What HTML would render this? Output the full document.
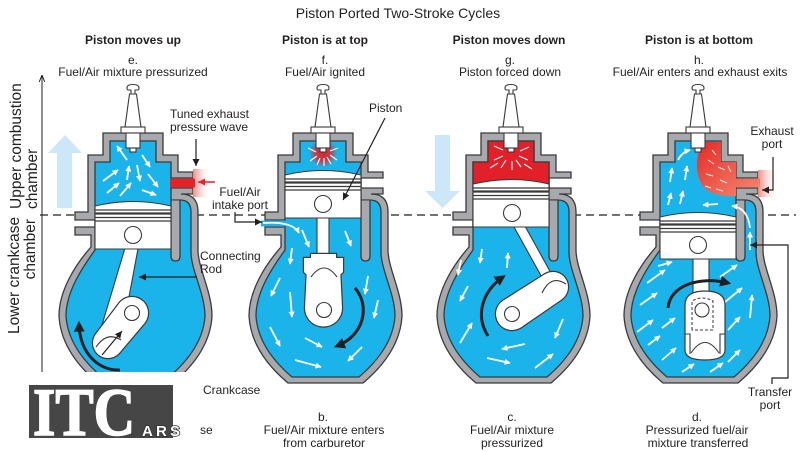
<!DOCTYPE html>
<html><head><meta charset="utf-8">
<style>
html,body{margin:0;padding:0;background:#fff;}
svg{display:block;}
text{font-family:"Liberation Sans",Arial,sans-serif;fill:#231f20;}
</style></head><body>
<svg width="800" height="452" viewBox="0 0 800 452" xmlns="http://www.w3.org/2000/svg">
<defs>
 <marker id="mb" viewBox="0 0 10 10" refX="10" refY="5" markerWidth="7" markerHeight="7" markerUnits="userSpaceOnUse" orient="auto"><path d="M0,0L10,5L0,10z" fill="#231f20"/></marker>
 <marker id="mr" viewBox="0 0 10 10" refX="10" refY="5" markerWidth="7" markerHeight="7" markerUnits="userSpaceOnUse" orient="auto"><path d="M0,0L10,5L0,10z" fill="#e52228"/></marker>
 <marker id="mw" viewBox="0 0 10 10" refX="9" refY="5" markerWidth="6" markerHeight="6" markerUnits="userSpaceOnUse" orient="auto"><path d="M0,0L10,5L0,10z" fill="#fff"/></marker>
 <marker id="mk" viewBox="0 0 10 10" refX="7" refY="5" markerWidth="11" markerHeight="11" markerUnits="userSpaceOnUse" orient="auto"><path d="M0,0L10,5L0,10z" fill="#231f20"/></marker>
 <marker id="mo" viewBox="0 0 10 10" refX="10" refY="5" markerWidth="7" markerHeight="7" markerUnits="userSpaceOnUse" orient="auto"><path d="M0,1L10,5L0,9" fill="none" stroke="#231f20" stroke-width="1.4"/></marker>
 <path id="outer" d="M-30,133 H30 V155 H45 V172 H60 V178 H38 V188 H60 V194 H48 Q65,194 65,212 V250 C65,268 79,292 79,316 Q77,352 40,383 H-35 Q-72,352 -74,316 C-74,290 -57,264 -42,247 V235 H-58 V227 H-38 V220 H-58 V212 H-45 V155 H-30 Z"/>
 <path id="inner" d="M-23,141 H23 V162 H38 V200 H47 Q58,200 58,212 V252 C58,270 72,294 72,316 Q70,348 36,377 H-31 Q-65,348 -67,316 C-67,292 -51,268 -38,250 V162 H-23 Z"/>
 <path id="bar" d="M38,200.5 V256 Q38,261 42.5,261 Q47,261 47,256 V200.5"/>
 <g id="plug" fill="#fff" stroke="#3a3a3a" stroke-width="1.1">
  <path d="M-3.5,94 L3.5,94 L8,127 L-8,127 Z"/>
  <rect x="-12" y="127" width="24" height="6"/>
  <rect x="-7" y="133" width="14" height="15"/>
  <rect x="-3" y="148" width="6" height="4"/>
  <path d="M-2,94 V90 H-4.5 Q-6,90 -6,88 Q-6,84.5 0,84.5 Q6,84.5 6,88 Q6,90 4.5,90 H2 V94 Z"/>
 </g>
 <radialGradient id="glow"><stop offset="0" stop-color="#e52228"/><stop offset="0.55" stop-color="#e52228" stop-opacity="0.8"/><stop offset="1" stop-color="#e52228" stop-opacity="0"/></radialGradient>
 <linearGradient id="fade" x1="0" y1="0" x2="1" y2="0"><stop offset="0" stop-color="#f08a84"/><stop offset="1" stop-color="#fde4e2" stop-opacity="0"/></linearGradient>
 <linearGradient id="blob" x1="0" y1="0" x2="1" y2="1"><stop offset="0" stop-color="#e52a26"/><stop offset="1" stop-color="#f58a72"/></linearGradient>
</defs>

<!-- dashed divider -->
<line x1="40" y1="215" x2="796" y2="215" stroke="#231f20" stroke-width="1.3" stroke-dasharray="8,5"/>
<!-- axis -->
<line x1="42" y1="372" x2="42" y2="75" stroke="#231f20" stroke-width="1" marker-end="url(#mo)"/>

<!-- big light blue arrows -->
<polygon points="65,135 82,153 72,153 72,208 57,208 57,153 48,153" fill="#cce7f8"/>
<polygon points="435,135 450,135 450,191 460,191 442.5,208 425,191 435,191" fill="#cce7f8"/>

<!-- ============ ENGINE 1 ============ -->
<g transform="translate(133,0)">
 <use href="#outer" fill="#a7a9ac" stroke="#3a3a3a" stroke-width="1.3"/>
 <use href="#inner" fill="#1bb4ea" stroke="#3a3a3a" stroke-width="1.3"/>
 <rect x="60" y="169" width="16" height="28" fill="url(#fade)"/>
 <rect x="37" y="178.6" width="25" height="8.8" fill="#e52228"/>
 <use href="#bar" fill="#a7a9ac" stroke="#3a3a3a" stroke-width="1.3"/>
 <g stroke="#fff" stroke-width="1.8" marker-end="url(#mw)">
  <line x1="-6" y1="160" x2="-16" y2="146"/>
  <line x1="9" y1="155" x2="17" y2="167"/>
  <line x1="-30" y1="181" x2="-15" y2="170"/>
  <line x1="-26" y1="193" x2="-14" y2="183"/>
  <line x1="-13" y1="196" x2="-2" y2="183"/>
  <line x1="-6" y1="180" x2="-4" y2="166"/>
  <line x1="4" y1="165" x2="7" y2="181"/>
  <line x1="15" y1="174" x2="25" y2="187"/>
  <line x1="9" y1="190" x2="23" y2="195"/>
 </g>
 <path d="M-5,238 L7,238 L-13,345 L-37,345 Z" fill="#fff" stroke="#3a3a3a" stroke-width="1.1"/>
 <g fill="#3a3a3a" stroke="#3a3a3a" stroke-width="2.4">
  <circle cx="-1" cy="313" r="16"/><circle cx="-25" cy="343" r="15"/>
  <polygon points="11.5,323 -13.5,303 -36.7,333.6 -13.3,352.4"/>
 </g>
 <g fill="#fff">
  <circle cx="-1" cy="313" r="16"/><circle cx="-25" cy="343" r="15"/>
  <polygon points="11.5,323 -13.5,303 -36.7,333.6 -13.3,352.4"/>
 </g>
 <circle cx="-1" cy="313" r="7.5" fill="#fff" stroke="#3a3a3a" stroke-width="1.1"/>
 <path d="M-37,347 Q-26,331 -12,340" fill="none" stroke="#3a3a3a" stroke-width="1.1"/>
 <line x1="-31" y1="355" x2="-11" y2="331" stroke="#231f20" stroke-width="1.2" marker-end="url(#mb)"/>
 <path d="M-13,370 C-33,371 -53,355 -54,324" fill="none" stroke="#231f20" stroke-width="3" marker-end="url(#mk)"/>
 <g fill="#fff" stroke="#3a3a3a" stroke-width="1.1">
  <path d="M-38,249 V206 Q0,197 38,206 V249 Z"/>
  <circle cx="0" cy="235" r="8.5"/>
 </g>
 <g stroke="#3a3a3a"><line x1="-38" y1="210" x2="38" y2="210" stroke-width="1.2"/><line x1="-38" y1="213.5" x2="38" y2="213.5" stroke-width="2.2"/><line x1="-38" y1="217.5" x2="38" y2="217.5" stroke-width="1.2"/><line x1="-38" y1="221" x2="38" y2="221" stroke-width="1.2"/></g>
 <use href="#plug"/>
</g>

<!-- ============ ENGINE 2 ============ -->
<g transform="translate(323,0)">
 <use href="#outer" fill="#a7a9ac" stroke="#3a3a3a" stroke-width="1.3"/>
 <use href="#inner" fill="#1bb4ea" stroke="#3a3a3a" stroke-width="1.3"/>
 <rect x="-62" y="220.6" width="25" height="5.8" fill="#1bb4ea"/>
 <use href="#bar" fill="#a7a9ac" stroke="#3a3a3a" stroke-width="1.3"/>
 <path d="M-60,223 Q-30,221 -24,233" fill="none" stroke="#fff" stroke-width="1.8" marker-end="url(#mw)"/>
 <g stroke="#fff" stroke-width="1.8" marker-end="url(#mw)">
  <line x1="-21" y1="230" x2="-14" y2="247"/>
  <line x1="22" y1="231" x2="28" y2="246"/>
  <line x1="-31" y1="248" x2="-33" y2="264"/>
  <line x1="-43" y1="278" x2="-52" y2="296"/>
  <line x1="-33" y1="292" x2="-31" y2="317"/>
  <line x1="45" y1="276" x2="42" y2="294"/>
  <line x1="55" y1="300" x2="51" y2="318"/>
  <line x1="-53" y1="327" x2="-43" y2="346"/>
  <line x1="-18" y1="338" x2="-1" y2="347"/>
  <line x1="-28" y1="360" x2="-2" y2="367"/>
  <line x1="39" y1="347" x2="25" y2="361"/>
 </g>
 <rect x="-6" y="210" width="12" height="52" fill="#fff" stroke="#3a3a3a" stroke-width="1.1"/>
 <g fill="#3a3a3a" stroke="#3a3a3a" stroke-width="2.4">
  <path d="M-16,268 L-18,308 A18,18 0 0 0 19,308 L17,268 Z"/>
  <polygon points="-19,258 -12,258 -12,254 13,254 13,258 20,258 20,272 14,278 -13,278 -19,272"/>
 </g>
 <g fill="#fff">
  <path d="M-16,268 L-18,308 A18,18 0 0 0 19,308 L17,268 Z"/>
  <polygon points="-19,258 -12,258 -12,254 13,254 13,258 20,258 20,272 14,278 -13,278 -19,272"/>
 </g>
 <circle cx="1" cy="310" r="7.5" fill="#fff" stroke="#3a3a3a" stroke-width="1.1"/>
 <path d="M-12,277 Q1,259 14,277" fill="none" stroke="#3a3a3a" stroke-width="1.1"/>
 <path d="M32,288 C47,305 42,335 14,346" fill="none" stroke="#231f20" stroke-width="3" marker-end="url(#mk)"/>
 <g fill="#fff" stroke="#3a3a3a" stroke-width="1.1">
  <path d="M-38,218 V175 Q0,166 38,175 V218 Z"/>
  <circle cx="0" cy="204" r="8.5"/>
 </g>
 <g stroke="#3a3a3a"><line x1="-38" y1="179" x2="38" y2="179" stroke-width="1.2"/><line x1="-38" y1="182.5" x2="38" y2="182.5" stroke-width="2.2"/><line x1="-38" y1="186.5" x2="38" y2="186.5" stroke-width="1.2"/><line x1="-38" y1="190" x2="38" y2="190" stroke-width="1.2"/></g>
 <circle cx="0" cy="153" r="14" fill="url(#glow)"/>
 <use href="#plug"/>
 <g stroke="#fff" stroke-width="1.1">
  <line x1="-7" y1="152" x2="-15" y2="148"/><line x1="-6" y1="156" x2="-13" y2="161"/>
  <line x1="-3" y1="158" x2="-6" y2="165"/><line x1="1" y1="158" x2="1" y2="166"/>
  <line x1="4" y1="157" x2="8" y2="164"/><line x1="7" y1="155" x2="14" y2="160"/>
  <line x1="7" y1="151" x2="15" y2="148"/>
 </g>
</g>

<!-- ============ ENGINE 3 ============ -->
<g transform="translate(511,0)">
 <use href="#outer" fill="#a7a9ac" stroke="#3a3a3a" stroke-width="1.3"/>
 <use href="#inner" fill="#1bb4ea" stroke="#3a3a3a" stroke-width="1.3"/>
 <path d="M-23,141 H23 V162 H38 V190 H-38 V162 H-23 Z" fill="#e3202a" stroke="#3a3a3a" stroke-width="1.3"/>
 <use href="#bar" fill="#a7a9ac" stroke="#3a3a3a" stroke-width="1.3"/>
 <g stroke="#fff" stroke-width="1.8" marker-end="url(#mw)">
  <line x1="-29" y1="249" x2="-31" y2="263"/>
  <line x1="-4" y1="268" x2="-3" y2="253"/>
  <line x1="-43" y1="286" x2="-51" y2="301"/>
  <line x1="-51" y1="343" x2="-39" y2="323"/>
  <line x1="-24" y1="358" x2="-1" y2="363"/>
  <line x1="14" y1="344" x2="-9" y2="349"/>
  <line x1="52" y1="319" x2="44" y2="338"/>
  <line x1="24" y1="368" x2="42" y2="354"/>
  <line x1="-50" y1="260" x2="-53" y2="275"/>
 </g>
 <polygon points="5.4,210.6 -3.4,215.4 37.6,289.4 46.4,284.6" fill="#fff" stroke="#3a3a3a" stroke-width="1.1"/>
 <g fill="#3a3a3a" stroke="#3a3a3a" stroke-width="2.4">
  <circle cx="1" cy="314" r="16"/><circle cx="42" cy="287" r="15"/>
  <polygon points="-7.8,300.6 33.7,274.4 50.3,299.6 9.8,327.4"/>
 </g>
 <g fill="#fff">
  <circle cx="1" cy="314" r="16"/><circle cx="42" cy="287" r="15"/>
  <polygon points="-7.8,300.6 33.7,274.4 50.3,299.6 9.8,327.4"/>
 </g>
 <circle cx="1" cy="314" r="7.5" fill="#fff" stroke="#3a3a3a" stroke-width="1.1"/>
 <path d="M31,293 Q40,274 55,284" fill="none" stroke="#3a3a3a" stroke-width="1.1"/>
 <path d="M-23,336 C-37,314 -27,290 -8,277" fill="none" stroke="#231f20" stroke-width="3" marker-end="url(#mk)"/>
 <g fill="#fff" stroke="#3a3a3a" stroke-width="1.1">
  <path d="M-38,227 V184 Q0,175 38,184 V227 Z"/>
  <circle cx="1" cy="213" r="8.5"/>
 </g>
 <g stroke="#3a3a3a"><line x1="-38" y1="188" x2="38" y2="188" stroke-width="1.2"/><line x1="-38" y1="191.5" x2="38" y2="191.5" stroke-width="2.2"/><line x1="-38" y1="195.5" x2="38" y2="195.5" stroke-width="1.2"/><line x1="-38" y1="199" x2="38" y2="199" stroke-width="1.2"/></g>
 <use href="#plug"/>
 <g stroke="#fff" stroke-width="1.1">
  <line x1="-8" y1="150" x2="-17" y2="146"/><line x1="-8" y1="156" x2="-17" y2="160"/>
  <line x1="-5" y1="160" x2="-10" y2="168"/><line x1="1" y1="161" x2="1" y2="170"/>
  <line x1="5" y1="160" x2="10" y2="167"/><line x1="8" y1="156" x2="17" y2="160"/>
  <line x1="9" y1="151" x2="18" y2="147"/><line x1="-13" y1="163" x2="-21" y2="168"/>
  <line x1="13" y1="164" x2="21" y2="169"/>
 </g>
</g>

<!-- ============ ENGINE 4 ============ -->
<g transform="translate(698,0)">
 <use href="#outer" fill="#a7a9ac" stroke="#3a3a3a" stroke-width="1.3"/>
 <use href="#inner" fill="#1bb4ea" stroke="#3a3a3a" stroke-width="1.3"/>
 <rect x="60" y="170" width="18" height="27" fill="url(#fade)"/>
 <path d="M6,142 H23 V162 H38 V178.6 H62 V187.4 H38 V196 Q-1,198 -1,166 Q-1,150 6,142 Z" fill="url(#blob)"/>
 <g stroke="#fff" stroke-width="1" opacity="0.9">
  <line x1="10" y1="160" x2="16" y2="164"/><line x1="20" y1="167" x2="27" y2="170"/>
  <line x1="8" y1="174" x2="15" y2="176"/><line x1="22" y1="180" x2="29" y2="183"/>
  <line x1="7" y1="186" x2="13" y2="188"/><line x1="30" y1="166" x2="33" y2="172"/>
  <line x1="18" y1="189" x2="25" y2="191"/><line x1="14" y1="150" x2="18" y2="155"/>
 </g>
 <use href="#bar" fill="#a7a9ac" stroke="#3a3a3a" stroke-width="1.3"/>
 <g stroke="#fff" stroke-width="1.8" marker-end="url(#mw)">
  <line x1="-51" y1="283" x2="-33" y2="270"/>
  <line x1="-58" y1="305" x2="-41" y2="293"/>
  <line x1="-61" y1="332" x2="-45" y2="320"/>
  <line x1="-36" y1="328" x2="-23" y2="318"/>
  <line x1="-36" y1="360" x2="-22" y2="348"/>
  <line x1="-50" y1="345" x2="-38" y2="336"/>
  <line x1="22" y1="277" x2="39" y2="265"/>
  <line x1="27" y1="302" x2="44" y2="288"/>
  <line x1="52" y1="318" x2="54" y2="295"/>
  <line x1="30" y1="330" x2="42" y2="317"/>
  <line x1="30" y1="362" x2="42" y2="350"/>
  <line x1="12" y1="372" x2="25" y2="363"/>
  <line x1="-16" y1="372" x2="-4" y2="364"/>
  <line x1="-40" y1="266" x2="-26" y2="262"/>
  <line x1="52" y1="250" x2="52" y2="232"/>
  <line x1="-28" y1="182" x2="-26" y2="168"/>
  <line x1="-13" y1="180" x2="-11" y2="166"/>
  <line x1="-30" y1="205" x2="-27" y2="193"/>
  <line x1="-18" y1="204" x2="-15" y2="191"/>
  <line x1="20" y1="204" x2="5" y2="205"/>
 </g>
 <g fill="none" stroke="#fff" stroke-width="1.8" marker-end="url(#mw)">
  <path d="M-20,160 Q-16,152 -8,150"/>
  <path d="M52,228 Q50,208 34,206"/>
 </g>
 <rect x="-5" y="255" width="16" height="41" fill="#fff" stroke="#3a3a3a" stroke-width="1.1"/>
 <path d="M-13,305 Q-13,291 7,291 Q27,291 27,305 V350 Q27,360 7,360 Q-13,360 -13,350 Z" fill="#fff" stroke="#3a3a3a" stroke-width="1.2"/>
 <path d="M-6,330 V301 Q4,295 15,301 V330 Z" fill="none" stroke="#3a3a3a" stroke-width="1" stroke-dasharray="3,2"/>
 <circle cx="4" cy="310" r="7" fill="#fff" stroke="#3a3a3a" stroke-width="1.1"/>
 <path d="M-13,334 H-8 V354 M27,334 H22 V354" fill="none" stroke="#3a3a3a" stroke-width="1.1"/>
 <path d="M-7,353 Q7,332 21,353" fill="none" stroke="#3a3a3a" stroke-width="1.1"/>
 <path d="M-30,308 C-28,285 2,276 30,283" fill="none" stroke="#231f20" stroke-width="3" marker-end="url(#mk)"/>
 <g fill="#fff" stroke="#3a3a3a" stroke-width="1.1">
  <path d="M-38,259 V217 Q0,208 38,217 V259 Z"/>
  <circle cx="0" cy="245" r="8.5"/>
 </g>
 <g stroke="#3a3a3a"><line x1="-38" y1="221" x2="38" y2="221" stroke-width="1.2"/><line x1="-38" y1="224.5" x2="38" y2="224.5" stroke-width="2.2"/><line x1="-38" y1="228.5" x2="38" y2="228.5" stroke-width="1.2"/><line x1="-38" y1="232" x2="38" y2="232" stroke-width="1.2"/></g>
 <use href="#plug"/>
</g>

<!-- label arrows -->
<g fill="none" stroke="#231f20" stroke-width="1.2" marker-end="url(#mb)">
 <line x1="196" y1="139" x2="196" y2="166"/>
 <path d="M235,212 V222 H262"/>
 <line x1="385" y1="118" x2="343" y2="200"/>
 <line x1="197" y1="277" x2="139" y2="277"/>
 <path d="M773,157 V190 H762"/>
 <path d="M772,384 V378 H788 V245 H750"/>
</g>
<line x1="215" y1="182" x2="198" y2="182" stroke="#e52228" stroke-width="1.6" marker-end="url(#mr)"/>

<!-- texts -->
<text x="398" y="18" font-size="14" text-anchor="middle">Piston Ported Two-Stroke Cycles</text>
<g font-size="12" font-weight="bold" text-anchor="middle">
 <text x="133" y="44" font-weight="bold">Piston moves up</text>
 <text x="325" y="44" font-weight="bold">Piston is at top</text>
 <text x="509" y="44" font-weight="bold">Piston moves down</text>
 <text x="699" y="44" font-weight="bold">Piston is at bottom</text>
</g>
<g font-size="12" text-anchor="middle">
 <text x="133" y="64">e.</text><text x="133" y="76">Fuel/Air mixture pressurized</text>
 <text x="325" y="64">f.</text><text x="325" y="76">Fuel/Air ignited</text>
 <text x="510" y="64">g.</text><text x="510" y="76">Piston forced down</text>
 <text x="699" y="64">h.</text><text x="700" y="76">Fuel/Air enters and exhaust exits</text>
 <text x="323" y="421">b.</text><text x="324" y="434">Fuel/Air mixture enters</text><text x="324" y="447">from carburetor</text>
 <text x="512" y="421">c.</text><text x="512" y="434">Fuel/Air mixture</text><text x="512" y="447">pressurized</text>
 <text x="697" y="421">d.</text><text x="697" y="434">Pressurized fuel/air</text><text x="698" y="447">mixture transferred</text>
 <text x="240" y="196">Fuel/Air</text><text x="240" y="209">intake port</text>
 <text x="772" y="135">Exhaust</text><text x="772" y="148">port</text>
 <text x="770" y="396">Transfer</text><text x="770" y="409">port</text>
</g>
<g font-size="12">
 <text x="170" y="118">Tuned exhaust</text><text x="170" y="131">pressure wave</text>
 <text x="369" y="112">Piston</text>
 <text x="200" y="260">Connecting</text><text x="200" y="273">Rod</text>
 <text x="203" y="394">Crankcase</text>
 <text x="200" y="434">se</text>
</g>
<g font-size="15.5">
 <text transform="translate(21,209) rotate(-90)">Upper combustion</text>
 <text transform="translate(37,209) rotate(-90)">chamber</text>
 <text transform="translate(19,334) rotate(-90)">Lower crankcase</text>
 <text transform="translate(35,219) rotate(-90)" text-anchor="end">chamber</text>
</g>

<!-- logo -->
<rect x="0" y="372" width="200" height="80" fill="#fff"/>
<rect x="29" y="385" width="144" height="53" fill="#464646"/>
<text x="33" y="435" font-weight="bold" font-size="68" textLength="102" lengthAdjust="spacingAndGlyphs" style="font-family:'Liberation Serif',serif;fill:#fff;stroke:#fff;stroke-width:1.6">ITC</text>
<text x="142" y="436" font-weight="bold" font-size="15" textLength="38" lengthAdjust="spacing" style="fill:#fff;stroke:#333;stroke-width:1.6;paint-order:stroke">ARS</text>
</svg>
</body></html>
